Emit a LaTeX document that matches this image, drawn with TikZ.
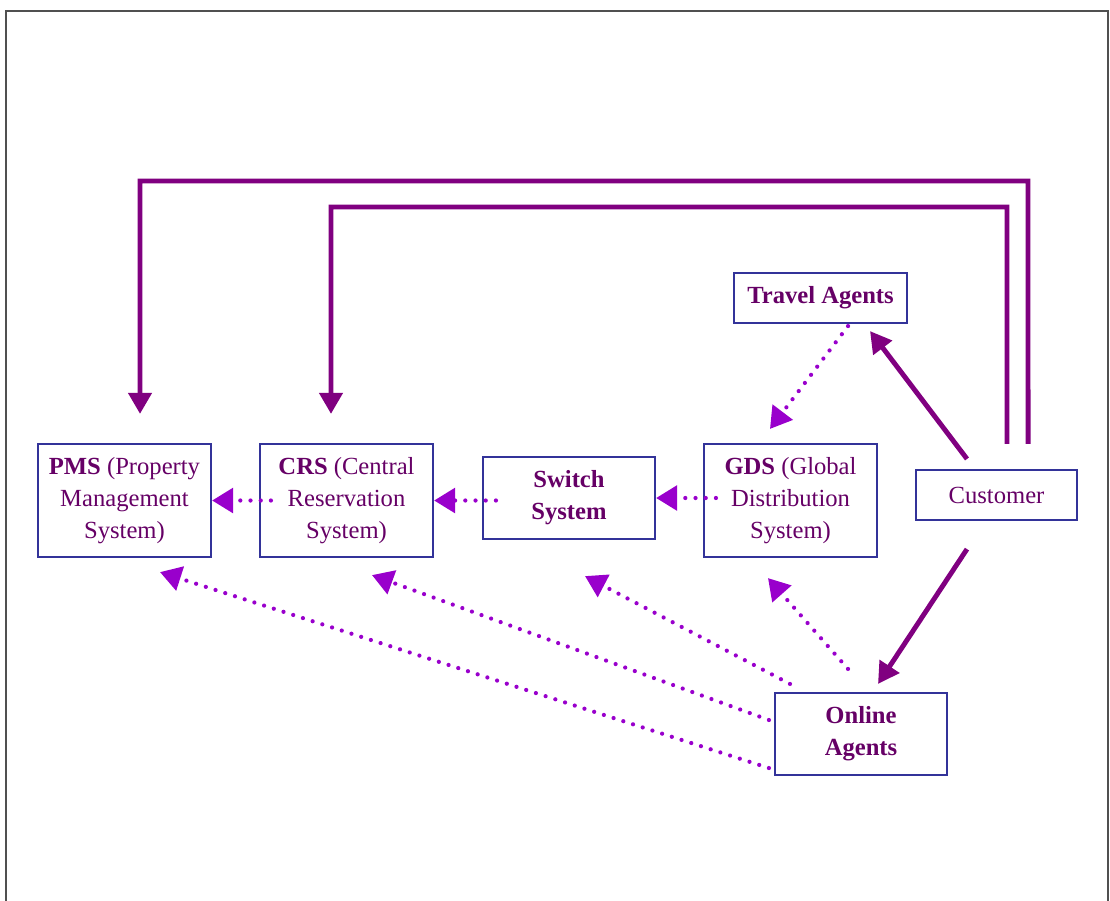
\documentclass[tikz,border=0pt]{standalone}
\usepackage{fontspec}
\setmainfont{Liberation Serif}
\usepackage{tikz}
\usetikzlibrary{arrows.meta}
\definecolor{boxblue}{RGB}{51,51,153}
\definecolor{labelpurple}{RGB}{102,0,102}
\definecolor{linkpurple}{RGB}{128,0,128}
\definecolor{feedviolet}{RGB}{153,0,204}
\definecolor{framegray}{RGB}{80,80,80}

\begin{document}
\begin{tikzpicture}[x=0.01cm, y=-0.01cm]
    % Define styles
    \tikzstyle{system} = [rectangle, draw=boxblue, line width=0.6pt, fill=white, text=labelpurple, align=center, font=\fontsize{7}{9.1}\selectfont, inner sep=0pt]
    \tikzstyle{link} = [draw=linkpurple, line width=1.4pt, -{Triangle[length=6pt, width=6.5pt]}]
    \tikzstyle{feed} = [draw=feedviolet, line width=1.2pt, line cap=round, dash pattern=on 0pt off 2.9pt, -{Triangle[length=6pt, width=7pt]}]

    \useasboundingbox (0,0) rectangle (1110,900);
    % Outer frame
    \draw [framegray, line width=0.6pt] (6,905) -- (6,11) -- (1108,11) -- (1108,905);

    % Hotel side
    \node [system, minimum width=1.73cm, minimum height=1.13cm] (pms) at (124.5,500.5) {\textbf{PMS} (Property\\Management\\System)};
    \node [system, minimum width=1.73cm, minimum height=1.13cm] (crs) at (346.5,500.5) {\textbf{CRS} (Central\\Reservation\\System)};
    \node [system, minimum width=1.72cm, minimum height=0.82cm] (switch_system) at (569,498) {\textbf{Switch}\\\textbf{System}};
    \node [system, minimum width=1.73cm, minimum height=1.13cm] (gds) at (790.5,500.5) {\textbf{GDS} (Global\\Distribution\\System)};

    % Distribution side
    \node [system, minimum width=1.73cm, minimum height=0.5cm] (travel_agents) at (820.5,298) {\textbf{Travel Agents}};
    \node [system, minimum width=1.61cm, minimum height=0.5cm] (customer) at (996.5,495) {Customer};
    \node [system, minimum width=1.72cm, minimum height=0.82cm] (online_agents) at (861,734) {\textbf{Online}\\\textbf{Agents}};

    \coordinate (outer_top) at (1028,181);
    \coordinate (inner_top) at (1007,207);

    % Customer bookings
    \draw [link, shorten <=0.25cm] ([xshift=0.315cm]customer.north) -- (outer_top) -| ([xshift=0.155cm, yshift=0.29cm]pms.north);
    \draw [link, shorten <=0.25cm] ([xshift=0.105cm]customer.north) -- (inner_top) -| ([xshift=-0.155cm, yshift=0.29cm]crs.north);
    \draw [link] ([xshift=-0.295cm, yshift=0.1cm]customer.north) -- ([xshift=0.495cm, yshift=-0.07cm]travel_agents.south);
    \draw [link] ([xshift=-0.295cm, yshift=-0.28cm]customer.south) -- ([xshift=0.17cm, yshift=0.08cm]online_agents.north);

    % Reservation flow
    \draw [feed] ([xshift=0.12cm]crs.west) -- (pms.east);
    \draw [feed] ([xshift=0.14cm]switch_system.west |- crs.east) -- (crs.east);
    \draw [feed] ([xshift=0.13cm]gds.west |- switch_system.east) -- (switch_system.east);
    \draw [feed] ([xshift=0.275cm, yshift=-0.02cm]travel_agents.south) -- ([xshift=-0.205cm, yshift=0.14cm]gds.north);

    % Online agents
    \draw [feed] ([xshift=-0.13cm, yshift=0.23cm]online_agents.north) -- ([xshift=-0.225cm, yshift=-0.2cm]gds.south);
    \draw [feed] ([xshift=-0.71cm, yshift=0.08cm]online_agents.north) -- ([xshift=0.16cm, yshift=-0.36cm]switch_system.south);
    \draw [feed] ([xshift=-0.05cm, yshift=0.14cm]online_agents.west) -- ([xshift=0.255cm, yshift=-0.17cm]crs.south);
    \draw [feed] ([xshift=-0.05cm, yshift=-0.34cm]online_agents.west) -- ([xshift=0.355cm, yshift=-0.14cm]pms.south);
\end{tikzpicture}
\end{document}
